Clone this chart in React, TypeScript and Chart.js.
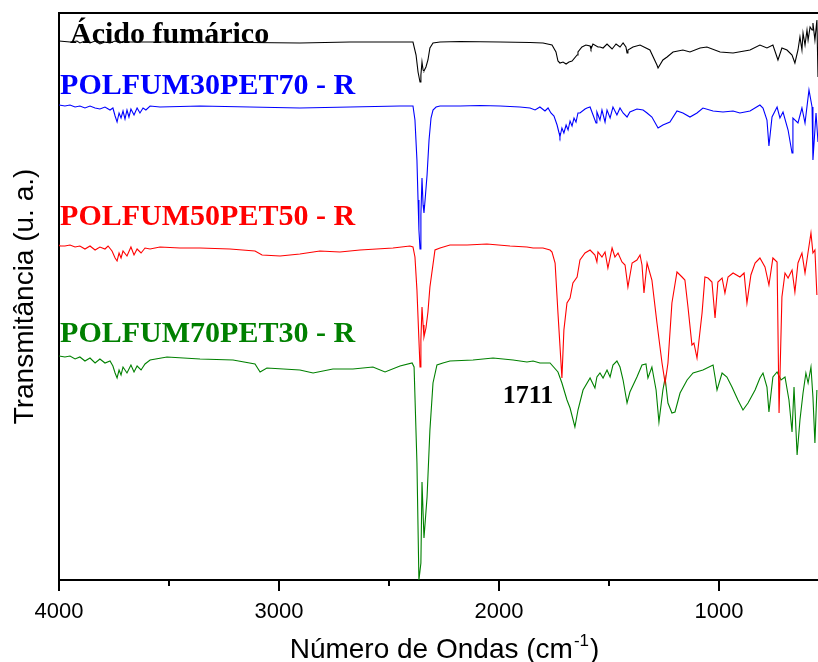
import React, { useEffect, useRef } from 'react';
import { Chart, registerables } from 'chart.js';

Chart.register(...registerables);

// ---------- data (wavenumber cm-1, transmittance a.u. with vertical offsets) ----------
const acidoWn = [4000, 3950, 3918, 3905, 3882, 3859, 3836, 3814, 3791, 3768, 3745, 3723, 3700, 3677, 3359, 2905, 2677, 2450, 2391, 2377, 2368, 2359, 2355, 2350, 2345, 2341, 2332, 2323, 2314, 2300, 2268, 2177, 1995, 1859, 1800, 1759, 1741, 1732, 1723, 1709, 1695, 1682, 1668, 1645, 1641, 1623, 1605, 1586, 1582, 1573, 1550, 1541, 1527, 1509, 1486, 1468, 1450, 1436, 1423, 1418, 1414, 1391, 1359, 1314, 1282, 1277, 1255, 1236, 1209, 1164, 1132, 1086, 1055, 995, 936, 859, 814, 782, 755, 732, 714, 691, 668, 655, 641, 632, 623, 618, 609, 600, 595, 586, 577, 573, 564, 555, 550];
const acidoT = [539, 538, 539, 537, 539, 537, 539, 536, 538, 537, 539, 537, 539, 538, 538, 537, 538, 538, 538, 525, 508, 498, 505, 518, 510, 509, 513, 520, 532, 537, 538, 538.5, 538, 537.5, 537, 535, 528, 519, 517, 518, 516, 518, 519, 525, 528, 533, 535, 534, 531, 536, 533, 533, 532, 536, 531, 536, 533, 537, 533, 527, 530, 533, 535, 530, 515, 512, 520, 523, 528, 530, 528, 532, 533, 528, 527, 530, 535, 532, 535, 520, 532, 530, 525, 517, 530, 543, 530, 547, 535, 550, 540, 553, 550, 557, 540, 560, 503];

const pf30Wn = [4000, 3973, 3950, 3927, 3905, 3882, 3859, 3836, 3814, 3791, 3768, 3755, 3745, 3736, 3727, 3718, 3709, 3700, 3691, 3682, 3673, 3659, 3645, 3632, 3618, 3605, 3586, 3541, 3359, 3132, 2905, 2677, 2450, 2391, 2382, 2373, 2368, 2364, 2359, 2355, 2350, 2345, 2341, 2336, 2327, 2318, 2309, 2300, 2286, 2268, 2177, 2086, 1995, 1905, 1859, 1836, 1814, 1791, 1777, 1764, 1750, 1736, 1727, 1723, 1714, 1705, 1695, 1686, 1677, 1668, 1659, 1650, 1641, 1632, 1609, 1600, 1586, 1559, 1555, 1541, 1532, 1518, 1509, 1495, 1482, 1464, 1450, 1436, 1418, 1405, 1373, 1345, 1327, 1305, 1277, 1255, 1223, 1191, 1164, 1132, 1100, 1073, 1027, 982, 936, 905, 859, 814, 800, 782, 773, 759, 736, 723, 709, 686, 668, 664, 641, 623, 609, 591, 577, 573, 559, 550];
const pf30T = [475, 474, 475, 473, 474, 472, 474, 472, 471, 473, 470, 472, 464, 458, 467, 462, 469, 461, 470, 463, 471, 465, 472, 467, 472, 470, 474, 473, 474, 473, 472, 473, 474, 474, 460, 420, 380, 350, 331, 365, 402, 375, 367, 380, 405, 440, 462, 470, 473, 474, 474, 474.5, 474, 473, 472, 470, 473, 469, 472, 467, 464, 455, 447, 443, 452, 447, 455, 450, 459, 454, 462, 458, 467, 467, 471, 472, 473, 457, 468, 460, 470, 458, 470, 462, 473, 465, 472, 467, 463, 468, 471, 470, 467, 463, 452, 455, 458, 469, 467, 463, 467, 472, 469, 468, 469, 467, 469, 475, 472, 460, 434, 463, 473, 462, 468, 450, 427, 462, 457, 472, 457, 490, 473, 420, 467, 438];

const pf50Wn = [4000, 3995, 3973, 3950, 3927, 3905, 3882, 3859, 3836, 3814, 3791, 3777, 3759, 3745, 3736, 3727, 3718, 3709, 3691, 3673, 3659, 3645, 3627, 3609, 3586, 3541, 3450, 3359, 3223, 3109, 3077, 2995, 2905, 2814, 2723, 2632, 2482, 2405, 2391, 2382, 2373, 2364, 2359, 2355, 2350, 2345, 2341, 2332, 2323, 2314, 2291, 2268, 2223, 2145, 2055, 1950, 1873, 1845, 1800, 1768, 1759, 1745, 1732, 1714, 1705, 1691, 1677, 1664, 1645, 1632, 1609, 1586, 1564, 1555, 1550, 1532, 1518, 1505, 1486, 1473, 1459, 1441, 1427, 1414, 1395, 1373, 1359, 1350, 1341, 1327, 1305, 1282, 1259, 1245, 1232, 1214, 1191, 1168, 1155, 1141, 1123, 1114, 1100, 1077, 1064, 1050, 1032, 1018, 1005, 986, 973, 959, 936, 905, 886, 873, 855, 836, 814, 791, 773, 755, 736, 727, 714, 700, 686, 668, 655, 641, 623, 609, 595, 582, 573, 564, 555];
const pf50T = [335, 334, 334, 335, 333, 334, 331, 334, 330, 333, 331, 334, 329, 322, 319, 327, 322, 329, 324, 333, 325, 331, 327, 332, 331, 333, 332, 332, 331, 329, 325, 324, 326, 329, 328, 330, 332, 334, 333, 323, 290, 240, 213, 240, 273, 255, 243, 252, 268, 293, 330, 332, 335, 335, 336, 334, 333, 332, 332, 330, 328, 317, 267, 202, 250, 277, 282, 297, 303, 320, 327, 330, 325, 318, 328, 323, 328, 312, 332, 323, 327, 318, 315, 293, 317, 320, 325, 315, 287, 317, 300, 257, 217, 197, 217, 277, 308, 303, 300, 273, 235, 237, 222, 267, 303, 302, 298, 262, 298, 302, 287, 303, 307, 303, 307, 277, 305, 317, 322, 313, 295, 322, 318, 167, 283, 307, 302, 310, 288, 317, 327, 307, 328, 347, 327, 330, 285];

const pf70Wn = [4000, 3973, 3950, 3927, 3905, 3882, 3859, 3836, 3814, 3791, 3768, 3755, 3745, 3736, 3727, 3718, 3709, 3691, 3673, 3659, 3645, 3627, 3609, 3586, 3509, 3359, 3209, 3109, 3086, 3055, 2905, 2845, 2755, 2664, 2573, 2518, 2450, 2395, 2386, 2373, 2364, 2355, 2350, 2341, 2327, 2314, 2300, 2282, 2255, 2223, 2118, 2027, 1936, 1873, 1845, 1814, 1768, 1732, 1714, 1691, 1677, 1655, 1641, 1618, 1586, 1564, 1555, 1541, 1527, 1509, 1495, 1482, 1464, 1450, 1436, 1418, 1405, 1373, 1350, 1332, 1323, 1305, 1286, 1273, 1255, 1245, 1232, 1214, 1200, 1177, 1145, 1118, 1073, 1027, 1018, 1009, 986, 964, 941, 914, 891, 868, 836, 814, 800, 782, 773, 755, 736, 718, 700, 682, 668, 659, 645, 632, 618, 605, 595, 582, 573, 564, 555];
const pf70T = [224, 223, 224, 221, 223, 219, 222, 217, 221, 217, 219, 214, 207, 202, 210, 205, 213, 207, 215, 208, 214, 210, 216, 220, 223, 221, 220, 216, 208, 212, 210, 207, 211, 211, 213, 208, 214, 217, 213, 117, 0, 17, 98, 42, 83, 150, 197, 215, 217, 219, 220, 222, 220, 218, 219, 217, 217, 208, 197, 180, 172, 153, 170, 190, 202, 192, 203, 207, 202, 210, 203, 215, 219, 213, 200, 177, 188, 203, 215, 216, 202, 213, 190, 158, 190, 202, 177, 167, 168, 187, 200, 207, 210, 215, 203, 190, 207, 203, 193, 180, 170, 177, 190, 202, 207, 193, 168, 203, 208, 200, 203, 180, 148, 193, 125, 160, 187, 207, 197, 213, 183, 137, 190];

const seriesNames = ['Ácido fumárico', 'POLFUM30PET70 - R', 'POLFUM50PET50 - R', 'POLFUM70PET30 - R'];
const seriesColors = ['#000000', '#0000FF', '#FF0000', '#008000'];
const labelWn = [3950, 3995, 3995, 3995];
const labelT = [537, 486, 355, 238];

const peakText = '1711';
const peakWn = 1868;
const peakT = 177;

const xTickValues = [4000, 3500, 3000, 2500, 2000, 1500, 1000];
const xMajorTicks = [4000, 3000, 2000, 1000];
const xMin = 550;
const xMax = 4000;
const yMin = 0;
const yMax = 567;

const yTitle = 'Transmitância (u. a.)';
const xTitleMain = 'Número de Ondas (cm';
const xTitleSup = '-1';
const xTitleEnd = ')';

const SANS = '"Liberation Sans", Arial, sans-serif';
const SERIF = '"Liberation Serif", "Times New Roman", serif';

function toPoints(wn: number[], t: number[]) {
  return wn.map((x, i) => ({ x, y: t[i] }));
}

export default function App() {
  const ref = useRef<HTMLCanvasElement | null>(null);

  useEffect(() => {
    const canvas = ref.current;
    if (!canvas) return;

    const decor = {
      id: 'decor',
      afterDraw(chart: any) {
        const ctx = chart.ctx as CanvasRenderingContext2D;
        const area = chart.chartArea;
        const xs = chart.scales.x;
        const ys = chart.scales.y;
        ctx.save();
        // top frame
        ctx.strokeStyle = '#000';
        ctx.lineWidth = 2;
        ctx.beginPath();
        ctx.moveTo(area.left - 1, area.top);
        ctx.lineTo(area.right, area.top);
        ctx.stroke();
        // tick marks on bottom axis
        xTickValues.forEach((v) => {
          const px = Math.round(xs.getPixelForValue(v));
          const len = xMajorTicks.includes(v) ? 11 : 6;
          ctx.beginPath();
          ctx.moveTo(px, area.bottom);
          ctx.lineTo(px, area.bottom + len);
          ctx.stroke();
        });
        // series labels
        ctx.textAlign = 'left';
        ctx.textBaseline = 'alphabetic';
        ctx.font = `bold 30px ${SERIF}`;
        seriesNames.forEach((name, i) => {
          ctx.fillStyle = seriesColors[i];
          ctx.fillText(name, xs.getPixelForValue(labelWn[i]), ys.getPixelForValue(labelT[i]));
        });
        // peak annotation
        ctx.fillStyle = '#000';
        ctx.textAlign = 'center';
        ctx.font = `bold 26px ${SERIF}`;
        ctx.fillText(peakText, xs.getPixelForValue(peakWn), ys.getPixelForValue(peakT));
        // y title
        ctx.save();
        ctx.translate(25, (area.top + area.bottom) / 2);
        ctx.rotate(-Math.PI / 2);
        ctx.textAlign = 'center';
        ctx.textBaseline = 'middle';
        ctx.font = `28px ${SANS}`;
        ctx.fillText(yTitle, 0, 0);
        ctx.restore();
        // x title with superscript
        ctx.textAlign = 'left';
        ctx.textBaseline = 'alphabetic';
        const mainFont = `28px ${SANS}`;
        const supFont = `17px ${SANS}`;
        ctx.font = mainFont;
        const w1 = ctx.measureText(xTitleMain).width;
        const w3 = ctx.measureText(xTitleEnd).width;
        ctx.font = supFont;
        const w2 = ctx.measureText(xTitleSup).width;
        const total = w1 + w2 + w3 + 2;
        const cx = (area.left + area.right) / 2 + 6;
        let x0 = cx - total / 2;
        const base = 658;
        ctx.font = mainFont;
        ctx.fillText(xTitleMain, x0, base);
        x0 += w1 + 1;
        ctx.font = supFont;
        ctx.fillText(xTitleSup, x0, base - 12);
        x0 += w2 + 1;
        ctx.font = mainFont;
        ctx.fillText(xTitleEnd, x0, base);
        ctx.restore();
      },
    };

    const chart = new Chart(canvas, {
      type: 'line',
      data: {
        datasets: [
          { label: seriesNames[0], data: toPoints(acidoWn, acidoT), borderColor: seriesColors[0] },
          { label: seriesNames[1], data: toPoints(pf30Wn, pf30T), borderColor: seriesColors[1] },
          { label: seriesNames[2], data: toPoints(pf50Wn, pf50T), borderColor: seriesColors[2] },
          { label: seriesNames[3], data: toPoints(pf70Wn, pf70T), borderColor: seriesColors[3] },
        ].map((d) => ({ ...d, borderWidth: 1.1, pointRadius: 0, tension: 0, fill: false })),
      },
      options: {
        responsive: false,
        animation: false,
        events: [],
        layout: { padding: { left: 0, right: 0, top: 13, bottom: 0 } },
        plugins: { legend: { display: false }, tooltip: { enabled: false } },
        scales: {
          x: {
            type: 'linear',
            reverse: true,
            min: xMin,
            max: xMax,
            afterBuildTicks: (scale: any) => {
              scale.ticks = xTickValues.map((v) => ({ value: v }));
            },
            afterFit: (scale: any) => {
              scale.height = 82;
            },
            ticks: {
              autoSkip: false,
              maxRotation: 0,
              padding: 11,
              color: '#000',
              font: { family: SANS, size: 22 },
              callback: (v: any) => (xMajorTicks.includes(Number(v)) ? String(v) : ''),
            },
            grid: { display: false },
            border: { display: true, color: '#000', width: 2 },
          },
          y: {
            min: yMin,
            max: yMax,
            afterFit: (scale: any) => {
              scale.width = 59;
            },
            ticks: { display: false },
            grid: { display: false },
            border: { display: true, color: '#000', width: 2 },
          },
        },
      },
      plugins: [decor],
    } as any);

    return () => {
      chart.destroy();
    };
  }, []);

  return (
    <div style={{ position: 'absolute', left: 0, top: 0, width: 818, height: 662, background: '#fff' }}>
      <canvas ref={ref} width={818} height={662} style={{ display: 'block' }} />
    </div>
  );
}
